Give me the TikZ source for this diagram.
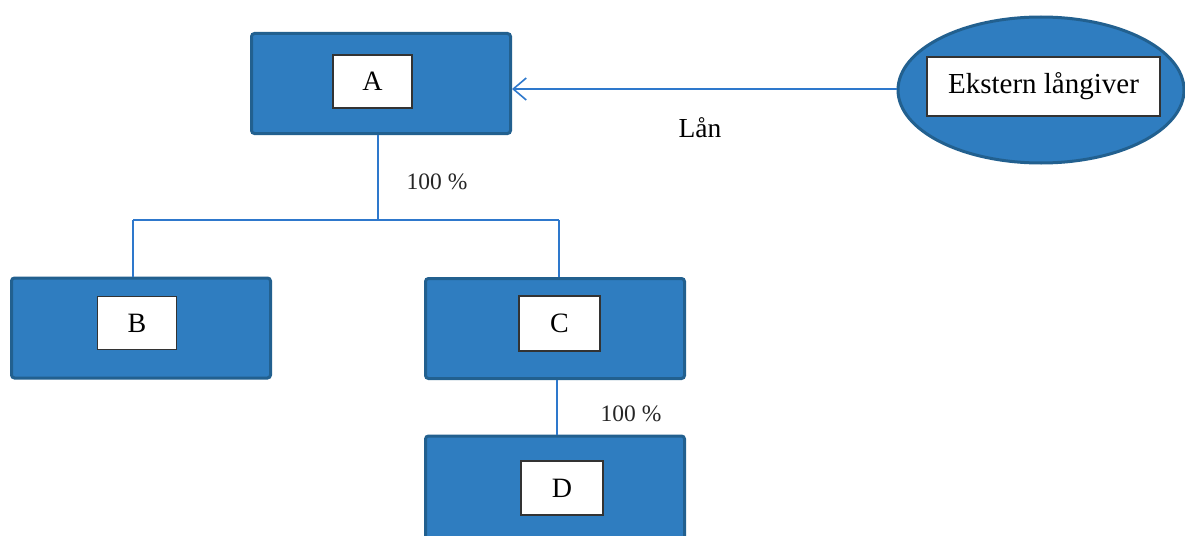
\documentclass[tikz,border=0pt]{standalone}
\usepackage{fontspec}
\setmainfont{Liberation Serif}
\usetikzlibrary{shapes.geometric,arrows.meta}
\definecolor{boxblue}{HTML}{2F7DC0}
\definecolor{edgeblue}{HTML}{22608F}
\definecolor{lineblue}{HTML}{2E78CC}
\tikzset{
  outerbox/.style={draw=edgeblue, fill=boxblue, line width=3pt, rounded corners=3pt, minimum width=259pt, minimum height=100pt, inner sep=0pt},
  innerbox/.style={draw=black!80, fill=white, line width=1.2pt, minimum width=79pt, minimum height=53pt, inner sep=0pt, font=\fontsize{28}{32}\selectfont},
  conn/.style={draw=lineblue, line width=1.6pt},
  pct/.style={font=\fontsize{23.5}{28}\selectfont, text=black!85},
}
\begin{document}
\begin{tikzpicture}[x=1pt, y=-1pt]
\clip (0,0) rectangle (1185,535);
\fill[white] (0,0) rectangle (1185,535);
% outer boxes
\node[outerbox] (A) at (381,83.5) {};
\node[outerbox] (B) at (141,328) {};
\node[outerbox] (C) at (555,328.5) {};
\node[outerbox, minimum height=110pt] (D) at (555,491) {};
\node[ellipse, draw=edgeblue, fill=boxblue, line width=3pt, minimum width=286pt, minimum height=146pt, inner sep=0pt] (E) at (1041,90) {};
% inner boxes
\node[innerbox] (a) at (372.5,81.5) {A};
\node[innerbox] (b) at (137,323) {B};
\node[innerbox, minimum width=81pt, minimum height=55pt] (c) at (559.5,323.5) {C};
\node[innerbox, minimum width=82pt, minimum height=54pt] (d) at (562,488) {D};
\node[innerbox, minimum width=233pt, minimum height=59pt, font=\fontsize{29}{33}\selectfont] (e) at (1043.5,86.5) {Ekstern långiver};
% connectors
\coordinate (j) at (378,220);
\coordinate (jb) at (133,220);
\coordinate (jc) at (559,220);
\draw[conn] (A.south -| j) -- (j);
\draw[conn] (jb) -- (jc);
\draw[conn] (jb) -- (B.north -| jb);
\draw[conn] (jc) -- (C.north -| jc);
\coordinate (cd) at (557,0);
\draw[conn] (C.south -| cd) -- (D.north -| cd);
\coordinate (arr) at (0,89);
\draw[conn, -{Straight Barb[length=13pt, width=22pt, line width=1.6pt]}] (E.west |- arr) -- (A.east |- arr);
% labels
\node[font=\fontsize{27.5}{32}\selectfont] (lan) at (700,128) {Lån};
\node[pct] (p1) at (437,182) {100 \%};
\node[pct] (p2) at (631,414) {100 \%};
\end{tikzpicture}
\end{document}
